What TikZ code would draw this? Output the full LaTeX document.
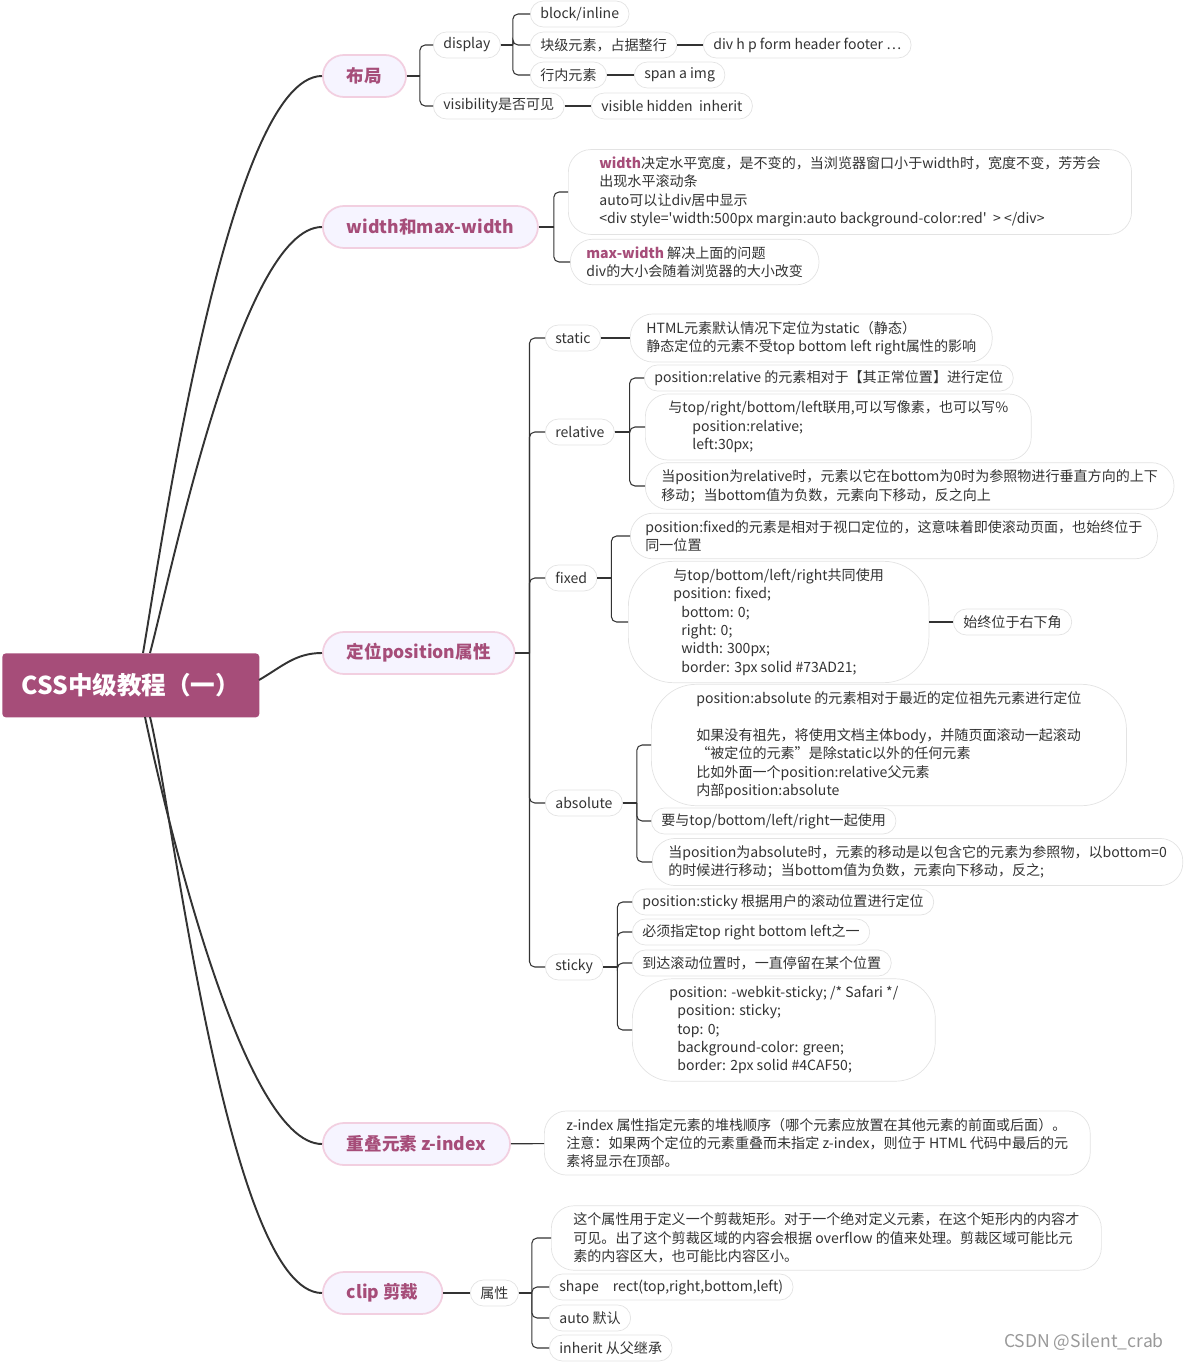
\documentclass[tikz,border=0pt]{standalone}
\usepackage{fontspec}
\setmainfont{Noto Sans CJK SC}
\newfontfamily\quotefont{Noto Sans CJK SC}
\usetikzlibrary{positioning}

\definecolor{rootfill}{HTML}{A64D79}
\definecolor{topicfill}{HTML}{F6F4FF}
\definecolor{topicline}{HTML}{F2CFE0}
\definecolor{leafline}{HTML}{E3E3E3}
\definecolor{inktext}{HTML}{333333}

\newcommand\twig[3]{%
  \draw[branch] (#1.east) -- ++(#3,0);
  \draw[branch,rounded corners=3pt] (#1.east) ++(#3,0) |- (#2.west);}
\newcommand\hi[1]{\textcolor{rootfill}{\textbf{#1}}}
\newcommand\sq{{\quotefont '}}

\begin{document}
\begin{tikzpicture}[x=0.02cm,y=-0.02cm,
  every node/.style={text=inktext},
  root/.style={fill=rootfill,rounded corners=2pt,text=white,font=\fontsize{14}{16}\selectfont\bfseries,
    minimum width=5.14cm,minimum height=1.28cm},
  topic/.style={draw=topicline,line width=1pt,fill=topicfill,rounded corners=0.42cm,text=rootfill,
    font=\fontsize{10}{12}\selectfont\bfseries,minimum height=0.84cm,inner xsep=0.48cm},
  leaf/.style={draw=leafline,fill=white,rounded corners=0.26cm,font=\fontsize{8}{10.5}\selectfont,
    minimum height=0.52cm,inner xsep=0.2cm,inner ysep=1pt},
  bubble/.style={leaf,rounded corners=0.45cm,align=left,inner xsep=0.4cm,inner ysep=4pt},
  trunk/.style={draw=black!80,line width=1.1pt},
  branch/.style={draw=black!80,line width=0.6pt}]
  \useasboundingbox (0,0) rectangle (1185,1362);

  % root
  \node[root,anchor=north west] (css) at (2,653) {CSS中级教程（一）};

  % topics
  \node[topic,anchor=west] (buju) at (322,76) {布局};
  \node[topic,anchor=west] (width) at (322,227) {width和max-width};
  \node[topic,anchor=west] (pos) at (322,653) {定位position属性};
  \node[topic,anchor=west] (zidx) at (322,1144) {重叠元素 z-index};
  \node[topic,anchor=west] (clip) at (322,1293) {clip 剪裁};

  \draw[trunk] (143,653) to[out=80,in=180,looseness=0.4] (buju.west);
  \draw[trunk] (150,653) to[out=75,in=180,looseness=0.45] (width.west);
  \draw[trunk] (259,680) to[out=30,in=180] (pos.west);
  \draw[trunk] (145,717) to[out=-78,in=180,looseness=0.45] (zidx.west);
  \draw[trunk] (150,717) to[out=-76,in=180,looseness=0.4] (clip.west);

  % 布局
  \node[leaf,anchor=west] (disp) at (433,45) {display};
  \node[leaf,anchor=west] (visi) at (433,106) {visibility是否可见};
  \node[leaf,anchor=west] (blk) at (530,14) {block/inline};
  \node[leaf,anchor=west] (blkel) at (530,45) {块级元素，占据整行};
  \node[leaf,anchor=west] (inel) at (530,75) {行内元素};
  \node[leaf,anchor=west] (divs) at (703,45) {div h p form header footer …};
  \node[leaf,anchor=west] (spans) at (634,75) {span a img};
  \node[leaf,anchor=west] (visv) at (591,106) {visible hidden\ \ inherit};
  \twig{buju}{disp}{13}
  \twig{buju}{visi}{13}
  \twig{disp}{blk}{12}
  \twig{disp}{blkel}{12}
  \twig{disp}{inel}{12}
  \draw[branch] (blkel) -- (divs);
  \draw[branch] (inel) -- (spans);
  \draw[branch] (visi) -- (visv);

  % width
  \node[bubble,anchor=west,inner xsep=0.62cm] (wd) at (568,192) {\hi{width}决定水平宽度，是不变的，当浏览器窗口小于width时，宽度不变，芳芳会\\
    出现水平滚动条\\auto可以让div居中显示\\<div style=\sq width:500px margin:auto background-color:red\sq\ \ > </div>};
  \node[bubble,anchor=west,inner xsep=0.32cm] (mwd) at (570,262) {\hi{max-width} 解决上面的问题\\div的大小会随着浏览器的大小改变};
  \twig{width}{wd}{15}
  \twig{width}{mwd}{15}

  % position
  \node[leaf,anchor=west] (stat) at (545,338) {static};
  \node[leaf,anchor=west] (rel) at (545,432) {relative};
  \node[leaf,anchor=west] (fix) at (545,578) {fixed};
  \node[leaf,anchor=west] (abs) at (545,803) {absolute};
  \node[leaf,anchor=west] (stk) at (545,967) {sticky};
  \foreach \c in {stat,rel,fix,abs,stk} {\twig{pos}{\c}{14}}

  \node[bubble,anchor=west,inner xsep=0.32cm] (stat1) at (630,338) {HTML元素默认情况下定位为static（静态）\\静态定位的元素不受top bottom left right属性的影响};
  \draw[branch] (stat) -- (stat1);

  \node[leaf,anchor=west] (rel1) at (644,378) {position:relative 的元素相对于【其正常位置】进行定位};
  \node[bubble,anchor=west,inner xsep=0.46cm] (rel2) at (645,427) {与top/right/bottom/left联用,可以写像素，也可以写\%\\
    \hspace*{0.48cm}position:relative;\\\hspace*{0.48cm}left:30px;};
  \node[bubble,anchor=west,inner xsep=0.32cm] (rel3) at (645,486) {当position为relative时，元素以它在bottom为0时为参照物进行垂直方向的上下\\移动；当bottom值为负数，元素向下移动，反之向上};
  \foreach \c in {rel1,rel2,rel3} {\twig{rel}{\c}{15}}

  \node[bubble,anchor=west,inner xsep=0.3cm] (fix1) at (630,536) {position:fixed的元素是相对于视口定位的，这意味着即使滚动页面，也始终位于\\同一位置};
  \node[bubble,anchor=west,inner xsep=0.9cm,rounded corners=0.9cm] (fix2) at (628,622) {与top/bottom/left/right共同使用\\position: fixed;\\
    \hspace*{0.16cm}bottom: 0;\\\hspace*{0.16cm}right: 0;\\\hspace*{0.16cm}width: 300px;\\\hspace*{0.16cm}border: 3px solid \#73AD21;};
  \node[leaf,anchor=west] (fix3) at (953,622) {始终位于右下角};
  \twig{fix}{fix1}{14}
  \twig{fix}{fix2}{14}
  \draw[branch] (fix2) -- (fix3);

  \node[bubble,anchor=west,inner xsep=0.9cm,rounded corners=0.9cm] (abs1) at (651,745) {position:absolute 的元素相对于最近的定位祖先元素进行定位\\[10.5pt]
    如果没有祖先，将使用文档主体body，并随页面滚动一起滚动\\“被定位的元素”是除static以外的任何元素\\比如外面一个position:relative父元素\\内部position:absolute};
  \node[leaf,anchor=west] (abs2) at (651,821) {要与top/bottom/left/right一起使用};
  \node[bubble,anchor=west,inner xsep=0.32cm] (abs3) at (652,862) {当position为absolute时，元素的移动是以包含它的元素为参照物，以bottom=0\\的时候进行移动；当bottom值为负数，元素向下移动，反之;};
  \foreach \c in {abs1,abs2,abs3} {\twig{abs}{\c}{14}}

  \node[leaf,anchor=west] (stk1) at (632,902) {position:sticky 根据用户的滚动位置进行定位};
  \node[leaf,anchor=west] (stk2) at (632,932) {必须指定top right bottom left之一};
  \node[leaf,anchor=west] (stk3) at (632,963) {到达滚动位置时，一直停留在某个位置};
  \node[bubble,anchor=west,inner xsep=0.74cm,rounded corners=0.8cm] (stk4) at (632,1030) {position: -webkit-sticky; /* Safari */\\
    \hspace*{0.16cm}position: sticky;\\\hspace*{0.16cm}top: 0;\\\hspace*{0.16cm}background-color: green;\\\hspace*{0.16cm}border: 2px solid \#4CAF50;};
  \foreach \c in {stk1,stk2,stk3,stk4} {\twig{stk}{\c}{14}}

  % z-index
  \node[bubble,anchor=west,inner xsep=0.44cm] (zi1) at (544,1143) {z-index 属性指定元素的堆栈顺序（哪个元素应放置在其他元素的前面或后面）。\\
    注意：如果两个定位的元素重叠而未指定 z-index，则位于 HTML 代码中最后的元\\素将显示在顶部。};
  \draw[branch] (zidx) -- (zi1);

  % clip
  \node[leaf,anchor=west] (attr) at (470,1293) {属性};
  \draw[branch] (clip) -- (attr);
  \node[bubble,anchor=west,inner xsep=0.44cm] (cl1) at (551,1238) {这个属性用于定义一个剪裁矩形。对于一个绝对定义元素，在这个矩形内的内容才\\
    可见。出了这个剪裁区域的内容会根据 overflow 的值来处理。剪裁区域可能比元\\素的内容区大，也可能比内容区小。};
  \node[leaf,anchor=west] (cl2) at (549,1287) {shape\quad rect(top,right,bottom,left)};
  \node[leaf,anchor=west] (cl3) at (549,1318) {auto 默认};
  \node[leaf,anchor=west] (cl4) at (549,1348) {inherit 从父继承};
  \foreach \c in {cl1,cl2,cl3,cl4} {\twig{attr}{\c}{13}}

  \node[anchor=east,text=black!40,font=\fontsize{10}{12}\selectfont] (mark) at (1170,1342) {CSDN @Silent\_crab};
\end{tikzpicture}
\end{document}
